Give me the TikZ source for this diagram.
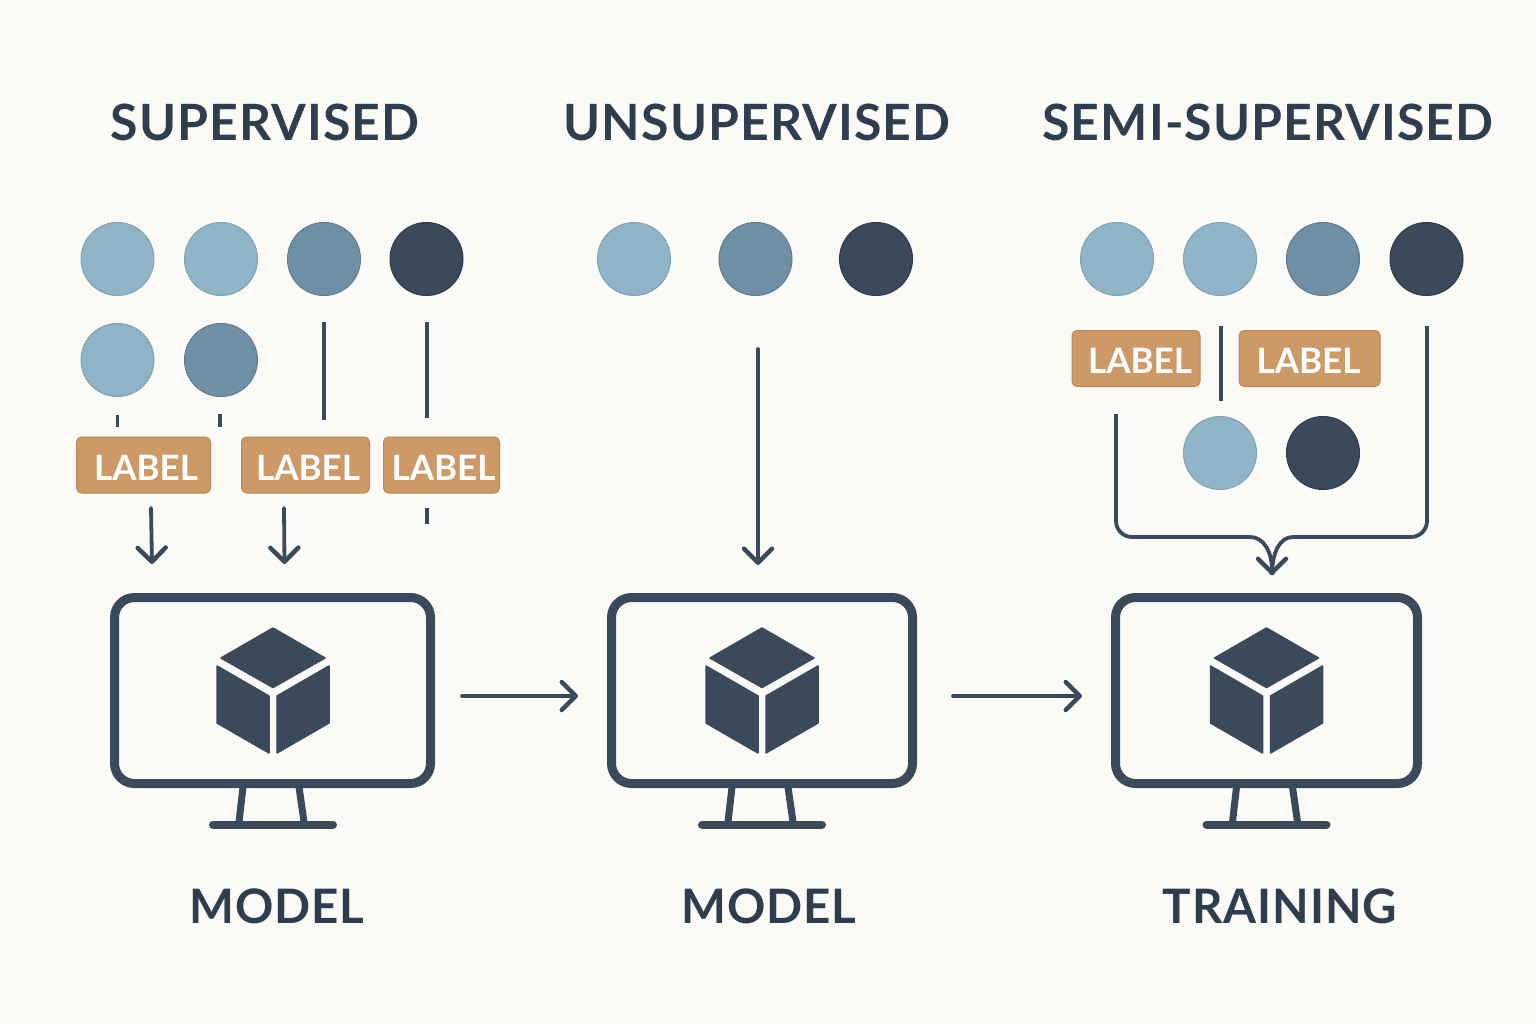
\documentclass[tikz,border=0pt]{standalone}
\usepackage{fontspec}
\setmainfont{Lato}
\usetikzlibrary{arrows.meta}
\definecolor{bgc}{HTML}{FBFAF6}
\definecolor{ink}{HTML}{3A4A5B}
\definecolor{titleink}{HTML}{2F3E4E}
\definecolor{lightc}{HTML}{8FB4C7}
\definecolor{midc}{HTML}{6F8FA6}
\definecolor{orangec}{HTML}{CD9966}
\newcommand{\labtxt}[1]{\hspace*{#1pt}\raisebox{-2.5pt}[\height][0pt]{LABEL}}
\tikzset{
  dot/.style={circle,inner sep=0pt,minimum size=73pt,line width=1pt},
  lightdot/.style={dot,fill=lightc,draw=lightc!90!black},
  middot/.style={dot,fill=midc,draw=midc!85!black},
  darkdot/.style={dot,fill=ink,draw=ink!80!black},
  tag/.style={rectangle,rounded corners=5pt,fill=orangec,draw=orangec!90!black,line width=1pt,inner sep=0pt,minimum height=56pt,text=white,font=\fontsize{35}{35}\selectfont\bfseries},
  conn/.style={draw=ink,line width=3.8pt},
  arrowc/.style={conn,line cap=round,-{Straight Barb[length=14pt,width=28pt,line width=4.5pt,round]}},
  head/.style={text=titleink,inner sep=0pt,font=\fontsize{50}{50}\selectfont\bfseries\addfontfeature{LetterSpace=2.2}},
  foothead/.style={text=titleink,inner sep=0pt,font=\fontsize{47.5}{50}\selectfont\bfseries\addfontfeature{LetterSpace=2}},
  screen/.style={rectangle,rounded corners=20pt,draw=ink,line width=9pt,minimum height=186pt,inner sep=0pt},
  leg/.style={draw=ink,line width=7pt},
  foot/.style={draw=ink,line width=8pt,line cap=round},
  face/.style={fill=ink,draw=ink,line width=1.5pt,line join=round}
}
\newcommand{\monitor}[4]{%
  \node[screen,minimum width=#3pt] (#1) at (#2,690.5) {};
  \begin{scope}[shift={(#4,0)}]
    \fill[face] (0,628)--(52,658)--(0,687.5)--(-52,658)--cycle;
    \fill[face] (-56,666)--(-4,696)--(-4,753)--(-56,723)--cycle;
    \fill[face] (56,666)--(4,696)--(4,753)--(56,723)--cycle;
    \draw[leg] (-30,787)--(-34,822);
    \draw[leg] (26,787)--(31,822);
    \draw[foot] (-60,824.5)--(60,824.5);
  \end{scope}}
\begin{document}
\begin{tikzpicture}[x=1pt,y=-1pt]
\fill[bgc] (0,0) rectangle (1536,1024);
\useasboundingbox (0,0) rectangle (1536,1024);

\node[head] (t1) at (265,122) {SUPERVISED};
\node[head] (t2) at (757,122) {UNSUPERVISED};
\node[head] (t3) at (1268,122) {SEMI-SUPERVISED};
\node[foothead] (b1) at (277,906) {MODEL};
\node[foothead] (b2) at (769,906) {MODEL};
\node[foothead] (b3) at (1280,906) {TRAINING};

% supervised
\node[lightdot] (a1) at (117.5,259) {};
\node[lightdot] (a2) at (221,259) {};
\node[middot] (a3) at (324,259) {};
\node[darkdot] (a4) at (426.5,259) {};
\node[lightdot] (a5) at (117.5,360) {};
\node[middot] (a6) at (221,360) {};
\node[tag,minimum width=134pt] (l1) at (143.5,465) {\labtxt{5}};
\node[tag,minimum width=128pt] (l2) at (305.5,465) {\labtxt{5}};
\node[tag,minimum width=116pt] (l3) at (441.5,465) {\labtxt{4}};

\coordinate (s1a) at (324,322); \coordinate (s1b) at (324,420);
\coordinate (s2a) at (427,322); \coordinate (s2b) at (427,418);
\coordinate (s3a) at (117.5,415); \coordinate (s3b) at (117.5,427);
\coordinate (s4a) at (220,414); \coordinate (s4b) at (220,427);
\coordinate (s5a) at (427,508); \coordinate (s5b) at (427,524);
\coordinate (s6a) at (151,508); \coordinate (s6b) at (152,564);
\coordinate (s7a) at (284,508); \coordinate (s7b) at (284.5,564);
\draw[conn] (s1a)--(s1b);
\draw[conn] (s2a)--(s2b);
\draw[conn] (s3a)--(s3b);
\draw[conn] (s4a)--(s4b);
\draw[conn] (s5a)--(s5b);
\draw[arrowc] (s6a)--(s6b);
\draw[arrowc] (s7a)--(s7b);

% unsupervised
\node[lightdot] (u1) at (634,259) {};
\node[middot] (u2) at (755.5,259) {};
\node[darkdot] (u3) at (876,259) {};
\coordinate (u4a) at (758,349); \coordinate (u4b) at (758,565);
\draw[arrowc] (u4a)--(u4b);

% semi-supervised
\node[lightdot] (v1) at (1117,259) {};
\node[lightdot] (v2) at (1220,259) {};
\node[middot] (v3) at (1323,259) {};
\node[darkdot] (v4) at (1426.5,259) {};
\node[tag,minimum width=128pt] (m1) at (1136,358.5) {\labtxt{8}};
\node[tag,minimum width=141pt] (m2) at (1309.5,358.5) {\labtxt{-2}};
\node[lightdot] (v5) at (1220,453) {};
\node[darkdot] (v6) at (1323,453) {};
\coordinate (w1a) at (1221,326); \coordinate (w1b) at (1221,401);
\draw[conn] (w1a)--(w1b);
\coordinate (j1) at (1116,414); \coordinate (j2) at (1116,537); \coordinate (j3) at (1250,537);
\coordinate (j4) at (1427,326); \coordinate (j5) at (1427,537); \coordinate (j6) at (1293,537);
\coordinate (jt) at (1272,575);
\draw[conn,rounded corners=16pt] (j4)--(j5)--(j6);
\draw[conn] (j6) .. controls (1280,537) and (1272,552) .. (jt);
\draw[conn,rounded corners=16pt] (j1)--(j2)--(j3);
\draw[arrowc] (j3) .. controls (1264,537) and (1272,552) .. (jt);

% monitors
\monitor{d1}{272.5}{316}{273}
\monitor{d2}{762}{301}{762}
\monitor{d3}{1266.5}{302}{1266.5}
\coordinate (h1a) at (462,696); \coordinate (h1b) at (578,696);
\coordinate (h2a) at (953,696); \coordinate (h2b) at (1082,696);
\draw[arrowc] (h1a)--(h1b);
\draw[arrowc] (h2a)--(h2b);
\end{tikzpicture}
\end{document}
